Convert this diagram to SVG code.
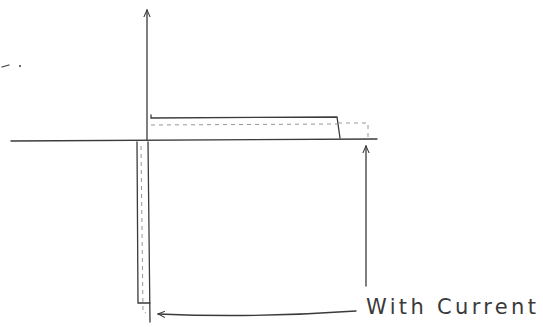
<svg xmlns="http://www.w3.org/2000/svg" width="543" height="327" viewBox="0 0 543 327">
<defs>
<style>
.ln{stroke:#3a3a3a;stroke-width:1.3;fill:none;stroke-linecap:round}
.dash{stroke:#8a8a8a;stroke-width:0.9;fill:none;stroke-dasharray:4 4}
.lbl{font-family:"DejaVu Sans","Liberation Sans",sans-serif;font-size:21px;fill:#3a3a3a}
</style>
<marker id="ah" viewBox="0 0 10 10" refX="9" refY="5" markerWidth="8" markerHeight="8" orient="auto-start-reverse" markerUnits="userSpaceOnUse">
<path d="M0,1 L9,5 L0,9" fill="none" stroke="#3a3a3a" stroke-width="1.3"/>
</marker>
</defs>
<rect width="543" height="327" fill="#ffffff"/>
<g id="axes">
<path class="ln" d="M147,10 L147,140" marker-start="url(#ah)"/>
<path class="ln" d="M11,141 L377,139"/>
</g>
<g id="strip-horizontal">
<path class="ln" d="M151,115 L151,118 L337,117 L340,138"/>
<path class="dash" d="M151,125 L338,124"/>
<path class="dash" d="M338,123 L368,123 L368,137"/>
</g>
<g id="strip-vertical">
<path class="ln" d="M137,142 L138,303 L150,303"/>
<path class="ln" d="M148,142 L150,322"/>
<path class="dash" d="M141,146 L143,312 L146,313"/>
</g>
<g id="label">
<text class="lbl" x="366" y="314" textLength="170" lengthAdjust="spacing">With Current</text>
</g>
<g id="connectors">
<path class="ln" d="M366,286 L366,146" marker-end="url(#ah)"/>
<path class="ln" d="M356,311 C300,315 230,317 158,314" marker-end="url(#ah)"/>
</g>
<g id="mark">
<path class="ln" d="M2,67 L9,65"/>
<circle cx="20" cy="66" r="1" fill="#3a3a3a"/>
</g>
</svg>
